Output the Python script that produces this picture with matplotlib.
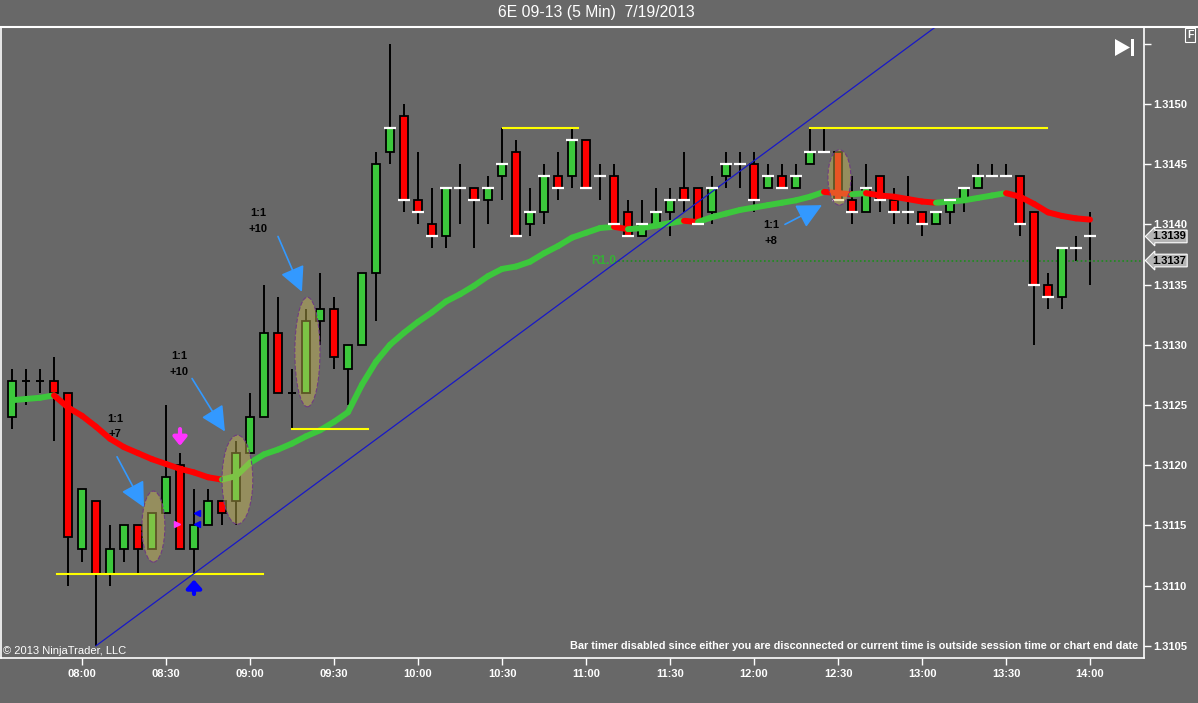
import numpy as np
import pandas as pd
import matplotlib
matplotlib.use("Agg")
import matplotlib.pyplot as plt
from matplotlib.patches import Ellipse, Polygon, Rectangle
from matplotlib.collections import LineCollection
import matplotlib.transforms as mtransforms

plt.rcParams["font.family"] = ["Liberation Sans", "DejaVu Sans"]

# 5 minute bars, 6E 09-13, 7/19/2013
times = pd.date_range("2013-07-19 07:35", "2013-07-19 14:00", freq="5min")

opens = [1.3124, 1.3127, 1.3127, 1.3127, 1.3126, 1.3113, 1.3117, 1.3111, 1.3113, 1.3115,
         1.3113, 1.3116, 1.3120, 1.3113, 1.3115, 1.3117, 1.3117, 1.3121, 1.3124, 1.3131,
         1.3126, 1.3126, 1.3132, 1.3133, 1.3128, 1.3130, 1.3136, 1.3146, 1.3149, 1.3142,
         1.3140, 1.3139, 1.3143, 1.3143, 1.3142, 1.3144, 1.3146, 1.3140, 1.3141, 1.3144,
         1.3144, 1.3147, 1.3144, 1.3144, 1.3141, 1.3139, 1.3140, 1.3141, 1.3143, 1.3143,
         1.3141, 1.3144, 1.3145, 1.3145, 1.3143, 1.3144, 1.3143, 1.3145, 1.3146, 1.3146,
         1.3142, 1.3141, 1.3144, 1.3142, 1.3141, 1.3141, 1.3140, 1.3141, 1.3142, 1.3143,
         1.3144, 1.3144, 1.3144, 1.3141, 1.3135, 1.3134, 1.3138, 1.3139]
highs = [1.3128, 1.3128, 1.3128, 1.3129, 1.3126, 1.3118, 1.3117, 1.3115, 1.3115, 1.3115,
         1.3116, 1.3125, 1.3121, 1.3118, 1.3118, 1.3117, 1.3122, 1.3126, 1.3135, 1.3134,
         1.3128, 1.3133, 1.3136, 1.3134, 1.3130, 1.3136, 1.3146, 1.3155, 1.3150, 1.3146,
         1.3143, 1.3143, 1.3145, 1.3143, 1.3144, 1.3148, 1.3147, 1.3143, 1.3145, 1.3146,
         1.3148, 1.3147, 1.3145, 1.3145, 1.3142, 1.3142, 1.3143, 1.3143, 1.3146, 1.3143,
         1.3144, 1.3146, 1.3146, 1.3146, 1.3145, 1.3145, 1.3145, 1.3148, 1.3148, 1.3146,
         1.3144, 1.3145, 1.3144, 1.3143, 1.3144, 1.3141, 1.3141, 1.3142, 1.3143, 1.3145,
         1.3145, 1.3145, 1.3144, 1.3141, 1.3136, 1.3138, 1.3139, 1.3141]
lows = [1.3123, 1.3125, 1.3126, 1.3122, 1.3110, 1.3112, 1.3105, 1.3110, 1.3112, 1.3111,
        1.3113, 1.3116, 1.3113, 1.3111, 1.3115, 1.3115, 1.3115, 1.3121, 1.3124, 1.3126,
        1.3123, 1.3126, 1.3130, 1.3128, 1.3125, 1.3130, 1.3132, 1.3145, 1.3141, 1.3140,
        1.3138, 1.3138, 1.3140, 1.3138, 1.3140, 1.3142, 1.3139, 1.3139, 1.3140, 1.3142,
        1.3143, 1.3143, 1.3142, 1.3140, 1.3139, 1.3139, 1.3140, 1.3139, 1.3141, 1.3140,
        1.3140, 1.3143, 1.3143, 1.3141, 1.3143, 1.3143, 1.3143, 1.3145, 1.3146, 1.3142,
        1.3140, 1.3141, 1.3141, 1.3140, 1.3140, 1.3139, 1.3140, 1.3140, 1.3141, 1.3143,
        1.3144, 1.3144, 1.3139, 1.3130, 1.3133, 1.3133, 1.3137, 1.3135]
closes = [1.3127, 1.3127, 1.3127, 1.3126, 1.3114, 1.3118, 1.3111, 1.3113, 1.3115, 1.3113,
          1.3116, 1.3119, 1.3113, 1.3115, 1.3117, 1.3116, 1.3121, 1.3124, 1.3131, 1.3126,
          1.3126, 1.3132, 1.3133, 1.3129, 1.3130, 1.3136, 1.3145, 1.3148, 1.3142, 1.3141,
          1.3139, 1.3143, 1.3143, 1.3142, 1.3143, 1.3145, 1.3139, 1.3141, 1.3144, 1.3143,
          1.3147, 1.3143, 1.3144, 1.3140, 1.3139, 1.3140, 1.3141, 1.3142, 1.3142, 1.3140,
          1.3143, 1.3145, 1.3145, 1.3142, 1.3144, 1.3143, 1.3144, 1.3146, 1.3146, 1.3142,
          1.3141, 1.3143, 1.3142, 1.3141, 1.3141, 1.3140, 1.3141, 1.3142, 1.3143, 1.3144,
          1.3144, 1.3144, 1.3140, 1.3135, 1.3134, 1.3138, 1.3138, 1.3139]

# slope coloured moving average
ma = [1.31254, 1.31255, 1.31256, 1.31258, 1.31248, 1.31241, 1.31232, 1.31222, 1.31215, 1.31210,
      1.31205, 1.31201, 1.31197, 1.31194, 1.31190, 1.31188, 1.31191, 1.31202, 1.31209, 1.31213,
      1.31218, 1.31224, 1.31229, 1.31236, 1.31244, 1.31267, 1.31286, 1.31300, 1.31310, 1.31319,
      1.31327, 1.31336, 1.31342, 1.31349, 1.31357, 1.31363, 1.31365, 1.31369, 1.31376, 1.31382,
      1.31389, 1.31393, 1.31397, 1.31398, 1.31396, 1.31397, 1.31399, 1.31401, 1.31403, 1.31402,
      1.31406, 1.31409, 1.31412, 1.31414, 1.31416, 1.31418, 1.31420, 1.31423, 1.31427, 1.31426,
      1.31425, 1.31426, 1.31424, 1.31423, 1.31421, 1.31419, 1.31418, 1.31419, 1.31420, 1.31422,
      1.31424, 1.31426, 1.31423, 1.31417, 1.31410, 1.31407, 1.31405, 1.31404]

# drawing objects (bar index, price)
hlines_yellow = [(1.3111, 3.2, 17.9), (1.3123, 20.0, 25.4), (1.3148, 35.1, 40.4), (1.3148, 57.0, 73.9)]
trend_pts = [(6, 1.3105), (13, 1.3111)]
r1_level = 1.3137
ellipses = [(10.1, 1.31149, 1.64, 0.00059), (16.1, 1.31188, 2.2, 0.00074),
            (21.1, 1.31294, 1.8, 0.00091), (59.1, 1.31439, 1.64, 0.00046)]
ann_text = ["1:1\n+7", "1:1\n+10", "1:1\n+10", "1:1\n+8"]
ann_text_pos = [(7.36, 1.31232), (11.93, 1.31284), (17.57, 1.31403), (54.21, 1.31393)]
ann_tail = [(7.5, 1.31207), (12.86, 1.31272), (19.0, 1.31390), (55.21, 1.31400)]
ann_tip = [(9.43, 1.31165), (15.21, 1.31228), (20.71, 1.31344), (57.86, 1.31416)]

BG = "#686868"
GREEN = "#3cc83c"
RED = "#ff0000"

fig = plt.figure(figsize=(11.98, 7.03), dpi=100, facecolor=BG)
ax = fig.add_axes([1 / 1198, 45 / 703, 1143 / 1198, 631 / 703], facecolor=BG)

x = np.arange(len(times))
o, h, l, c = map(np.array, (opens, highs, lows, closes))

# wicks and bodies
ax.vlines(x, l, h, color="black", lw=1.4, zorder=2)
up = c > o
dn = c < o
doji = c == o
ax.bar(x[up], (c - o)[up], bottom=o[up], width=0.57, color=GREEN, edgecolor="black", lw=1.3, zorder=3)
ax.bar(x[dn], (o - c)[dn], bottom=c[dn], width=0.57, color=RED, edgecolor="black", lw=1.3, zorder=3)
ax.hlines(c[doji], x[doji] - 0.3, x[doji] + 0.3, color="black", lw=1.4, zorder=3)

# close markers
mark = x >= 27
ax.hlines(c[mark], x[mark] - 0.45, x[mark] + 0.45, color="white", lw=1.6, zorder=5)

# moving average, green when rising, red when falling
ma = np.array(ma)
segs = [[(x[i - 1], ma[i - 1]), (x[i], ma[i])] for i in range(1, len(ma))]
cols = [GREEN if ma[i] >= ma[i - 1] else RED for i in range(1, len(ma))]
ax.add_collection(LineCollection(segs, colors=cols, linewidths=4.3, capstyle="round", zorder=4))

# yellow lines
for lvl, x0, x1 in hlines_yellow:
    ax.plot([x0, x1], [lvl, lvl], color="#ffff00", lw=1.5, zorder=4)

# trend line
(tx0, ty0), (tx1, ty1) = trend_pts
slope = (ty1 - ty0) / (tx1 - tx0)
tx = np.array([tx0, 82])
ax.plot(tx, ty0 + slope * (tx - tx0), color="#1818c8", lw=0.9, zorder=4)

# R1 pivot
ax.plot([43.0, 82], [r1_level, r1_level], color="#1e8c1e", lw=1.2, ls=(0, (1, 1.5)), zorder=2)
ax.text(41.4, r1_level, "R1.0", color="#36b036", fontsize=8.5, fontweight="bold",
        va="center", ha="left", zorder=3)

# trade ellipses
for cx, cy, w, hgt in ellipses:
    ax.add_patch(Ellipse((cx, cy), w, hgt, facecolor=(0.8, 0.74, 0.32, 0.45),
                         edgecolor="#6e3c82", ls="--", lw=0.8, zorder=6))

# trade annotations
for txt, tp, tail, tip in zip(ann_text, ann_text_pos, ann_tail, ann_tip):
    ax.text(tp[0], tp[1], txt, ha="center", va="center", fontsize=8, fontweight="bold",
            color="black", linespacing=1.7, zorder=7)
    ax.annotate("", xy=tip, xytext=tail,
                arrowprops=dict(arrowstyle="-|>,head_length=1.1,head_width=0.55", mutation_scale=14,
                                lw=1.2, color="#3399ff", shrinkA=0, shrinkB=0), zorder=7)

# signal markers
ax.annotate("", xy=(12.0, 1.31216), xytext=(12.0, 1.31230),
            arrowprops=dict(arrowstyle="-|>,head_length=0.5,head_width=0.4", mutation_scale=10,
                            lw=3, color="#ff33ff", shrinkA=0, shrinkB=0), zorder=7)
ax.plot([11.8], [1.31151], marker=">", color="#ff33ff", ms=5, zorder=7)
ax.plot([13.2, 13.2], [1.31160, 1.31151], ls="none", marker="<", color="#0000ff", ms=5, zorder=7)
ax.annotate("", xy=(13.0, 1.31105), xytext=(13.0, 1.31093),
            arrowprops=dict(arrowstyle="-|>,head_length=0.5,head_width=0.45", mutation_scale=10,
                            lw=3, color="#0000ff", shrinkA=0, shrinkB=0), zorder=7)

# axes
ax.set_xlim(-0.786, 80.857)
ax.set_ylim(1.3103987, 1.3156395)
ticks_x = [i for i, t in enumerate(times) if t.minute % 30 == 0]
ax.set_xticks(ticks_x)
ax.set_xticklabels([times[i].strftime("%H:%M") for i in ticks_x], fontweight="bold")
yt = np.round(np.arange(1.3105, 1.31551, 0.0005), 4)
ax.yaxis.tick_right()
ax.set_yticks(yt)
ax.set_yticklabels(["%.4f" % v if v < 1.3152 else "" for v in yt], fontweight="bold")
ax.tick_params(colors="white", labelcolor="white", labelsize=8, length=5, width=1, direction="out")
ax.tick_params(axis="x", pad=3)
ax.tick_params(axis="y", pad=2)
for s in ["left", "bottom", "right"]:
    ax.spines[s].set_color("white")
    ax.spines[s].set_linewidth(1.2)
ax.spines["top"].set_visible(False)

# price markers on the axis
blend = mtransforms.blended_transform_factory(ax.transAxes, ax.transData)
for v in [closes[-1], r1_level]:
    ax.text(1.007, v, "%.4f" % v, transform=blend, fontsize=8, fontweight="bold", color="black",
            va="center", ha="left",
            bbox=dict(boxstyle="larrow,pad=0.12", fc="#b4b4b4", ec="white", lw=0.8), zorder=8, clip_on=False)

# chrome
fig.add_artist(plt.Line2D([0, 1], [1 - 27 / 703, 1 - 27 / 703], color="white", lw=1.5))
fig.text(596 / 1198, 1 - 13 / 703, "6E 09-13 (5 Min)  7/19/2013", color="white", fontsize=11.3,
         ha="center", va="center")
fig.text(1190 / 1198, 1 - 35 / 703, "F", color="white", fontsize=7.5, fontweight="bold",
         ha="center", va="center",
         bbox=dict(boxstyle="square,pad=0.2", fc="none", ec="white", lw=0.8))
px = lambda a, b: (a / 1198, 1 - b / 703)
fig.add_artist(Polygon([px(1115, 39), px(1115, 56), px(1130, 47.5)], closed=True, fc="white", ec="none",
                       transform=fig.transFigure))
fig.add_artist(Rectangle(px(1131, 56), 3 / 1198, 17 / 703, fc="white", ec="none", transform=fig.transFigure))
fig.text(3 / 1198, 1 - 651 / 703, "\u00a9 2013 NinjaTrader, LLC", color="white", fontsize=8,
         ha="left", va="center")
fig.text(1138 / 1198, 1 - 646 / 703,
         "Bar timer disabled since either you are disconnected or current time is outside session time or chart end date",
         color="white", fontsize=7.85, fontweight="bold", ha="right", va="center")

fig.savefig("out.png", dpi=100, facecolor=BG)
